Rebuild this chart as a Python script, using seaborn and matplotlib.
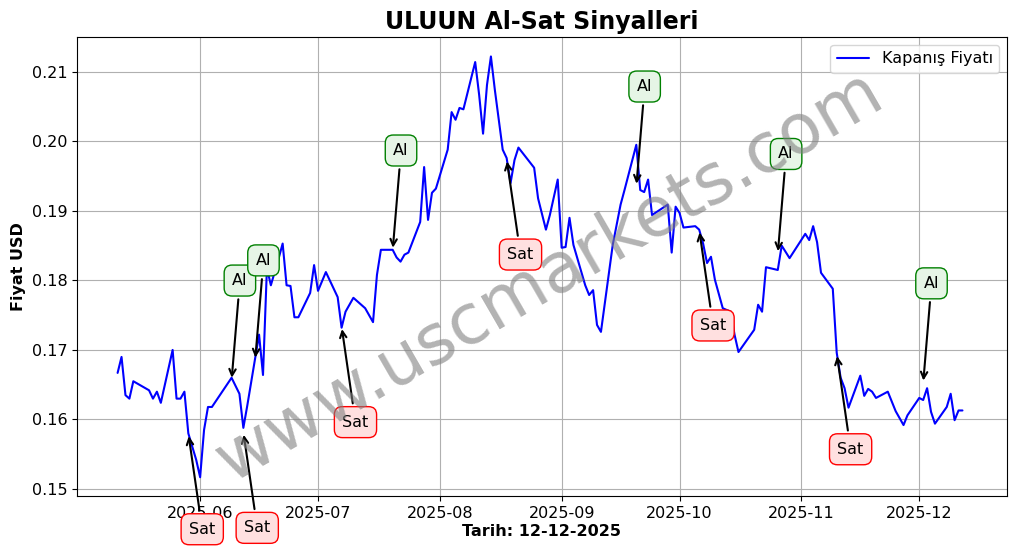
import matplotlib
matplotlib.use("Agg")
import matplotlib.pyplot as plt
import matplotlib.dates as mdates
import seaborn as sns
import pandas as pd

dates = ["2025-05-11","2025-05-12","2025-05-13","2025-05-14","2025-05-15","2025-05-19","2025-05-20","2025-05-21","2025-05-22",
"2025-05-25","2025-05-26","2025-05-27","2025-05-28","2025-05-29","2025-05-31","2025-06-01","2025-06-02","2025-06-03","2025-06-04",
"2025-06-09","2025-06-11","2025-06-12","2025-06-13","2025-06-16","2025-06-17","2025-06-18","2025-06-19","2025-06-21","2025-06-22",
"2025-06-23","2025-06-24","2025-06-25","2025-06-26","2025-06-29","2025-06-30","2025-07-01","2025-07-03","2025-07-06","2025-07-07",
"2025-07-08","2025-07-10","2025-07-11","2025-07-13","2025-07-15","2025-07-16","2025-07-17","2025-07-20","2025-07-21","2025-07-22",
"2025-07-23","2025-07-24","2025-07-27","2025-07-28","2025-07-29","2025-07-30","2025-07-31","2025-08-03","2025-08-04","2025-08-05",
"2025-08-06","2025-08-07","2025-08-10","2025-08-11","2025-08-12","2025-08-13","2025-08-14","2025-08-15","2025-08-17","2025-08-18",
"2025-08-19","2025-08-20","2025-08-21","2025-08-25","2025-08-26","2025-08-28","2025-08-29","2025-08-31","2025-09-01","2025-09-02",
"2025-09-03","2025-09-04","2025-09-07","2025-09-08","2025-09-09","2025-09-10","2025-09-11","2025-09-14","2025-09-16","2025-09-17",
"2025-09-20","2025-09-21","2025-09-22","2025-09-23","2025-09-24","2025-09-28","2025-09-29","2025-09-30","2025-10-01","2025-10-02",
"2025-10-05","2025-10-06","2025-10-07","2025-10-08","2025-10-09","2025-10-10","2025-10-12","2025-10-14","2025-10-15","2025-10-16",
"2025-10-20","2025-10-21","2025-10-22","2025-10-23","2025-10-26","2025-10-27","2025-10-29","2025-11-02","2025-11-03","2025-11-04",
"2025-11-05","2025-11-06","2025-11-09","2025-11-10","2025-11-11","2025-11-12","2025-11-13","2025-11-16","2025-11-17","2025-11-18",
"2025-11-19","2025-11-20","2025-11-23","2025-11-25","2025-11-27","2025-11-28","2025-12-01","2025-12-02","2025-12-03","2025-12-04",
"2025-12-05","2025-12-08","2025-12-09","2025-12-10","2025-12-11","2025-12-12"]
prices = [0.1667,0.1690,0.1635,0.1630,0.1655,0.1642,0.1630,0.1640,0.1624,
0.1700,0.1630,0.1630,0.1640,0.1580,0.1542,0.1517,0.1585,0.1618,0.1618,
0.1660,0.1637,0.1588,0.1620,0.1722,0.1664,0.1818,0.1793,0.1832,0.1853,
0.1793,0.1792,0.1747,0.1747,0.1782,0.1822,0.1785,0.1812,0.1776,0.1732,
0.1755,0.1775,0.1770,0.1760,0.1740,0.1808,0.1844,0.1844,0.1833,0.1827,
0.1837,0.1840,0.1884,0.1963,0.1887,0.1926,0.1932,0.1988,0.2042,0.2031,
0.2048,0.2046,0.2114,0.2067,0.2011,0.2081,0.2122,0.2074,0.1988,0.1976,
0.1940,0.1973,0.1991,0.1962,0.1918,0.1873,0.1894,0.1945,0.1847,0.1848,
0.1890,0.1851,0.1793,0.1779,0.1786,0.1736,0.1726,0.1851,0.1909,0.1930,
0.1995,0.1930,0.1927,0.1945,0.1894,0.1909,0.1840,0.1906,0.1897,0.1876,
0.1878,0.1873,0.1853,0.1825,0.1834,0.1801,0.1760,0.1755,0.1722,0.1697,
0.1729,0.1765,0.1755,0.1819,0.1815,0.1850,0.1832,0.1867,0.1858,0.1878,
0.1855,0.1811,0.1788,0.1696,0.1660,0.1645,0.1617,0.1663,0.1634,0.1644,
0.1640,0.1631,0.1640,0.1612,0.1592,0.1606,0.1631,0.1628,0.1645,0.1611,
0.1594,0.1618,0.1637,0.1599,0.1613,0.1613]

sat_dates = ["2025-05-29","2025-06-12","2025-07-07","2025-08-18","2025-10-06","2025-11-10"]
sat_vals = [0.1580,0.1582,0.1734,0.1975,0.1873,0.1695]
al_dates = ["2025-06-09","2025-06-15","2025-07-20","2025-09-20","2025-10-26","2025-12-02"]
al_vals = [0.1656,0.1685,0.1843,0.1935,0.1838,0.1652]

df = pd.DataFrame({"Tarih": pd.to_datetime(dates), "Fiyat": prices})

sns.set_style("white")
plt.rcParams['font.family'] = ['DejaVu Sans']
plt.rcParams['text.color'] = 'black'
plt.rcParams['axes.labelcolor'] = 'black'
plt.rcParams['xtick.color'] = 'black'
plt.rcParams['ytick.color'] = 'black'
fig = plt.figure(figsize=(10.17, 5.54), dpi=100)
ax = fig.add_axes([77/1017, 1-496/554, (1007-77)/1017, (496-37)/554])
sns.lineplot(data=df, x="Tarih", y="Fiyat", ax=ax, color="blue", linewidth=1.5, label="Kapanış Fiyatı")
ax.grid(True, color="#b0b0b0", linewidth=0.8)
for s in ax.spines.values():
    s.set_color("black"); s.set_linewidth(0.8)
ax.tick_params(labelsize=11.5, length=3.5, left=True, bottom=True)
ax.set_xlim(pd.Timestamp("2025-04-30 16:00"), pd.Timestamp("2025-12-23 08:00"))
ax.set_ylim(0.1490, 0.2150)
ax.xaxis.set_major_locator(mdates.MonthLocator(bymonth=range(6, 13)))
ax.xaxis.set_major_formatter(mdates.DateFormatter("%Y-%m"))
ax.set_title("ULUUN Al-Sat Sinyalleri", fontsize=17, fontweight="bold", color="black")
ax.set_xlabel("Tarih: 12-12-2025", fontsize=11.5, fontweight="bold", labelpad=2)
ax.set_ylabel("Fiyat USD", fontsize=11.5, fontweight="bold")
ax.legend(loc="upper right", fontsize=11.5)

for d, v in zip(sat_dates, sat_vals):
    ax.annotate("Sat", xy=(pd.Timestamp(d), v), xytext=(10, -69), textcoords="offset points",
                ha="center", va="center", fontsize=11.5, annotation_clip=False,
                bbox=dict(boxstyle="round,pad=0.5", fc="#ffe0e0", ec="red"),
                arrowprops=dict(arrowstyle="->", color="black", lw=1.5))
for d, v in zip(al_dates, al_vals):
    ax.annotate("Al", xy=(pd.Timestamp(d), v), xytext=(6, 72), textcoords="offset points",
                ha="center", va="center", fontsize=11.5,
                bbox=dict(boxstyle="round,pad=0.5", fc="#e6f5e6", ec="green"),
                arrowprops=dict(arrowstyle="->", color="black", lw=1.5))

fig.text(0.54, 0.5, "www.uscmarkets.com", fontsize=50, color="gray", alpha=0.6,
         rotation=30, ha="center", va="center")
fig.savefig("out.png", dpi=100)
